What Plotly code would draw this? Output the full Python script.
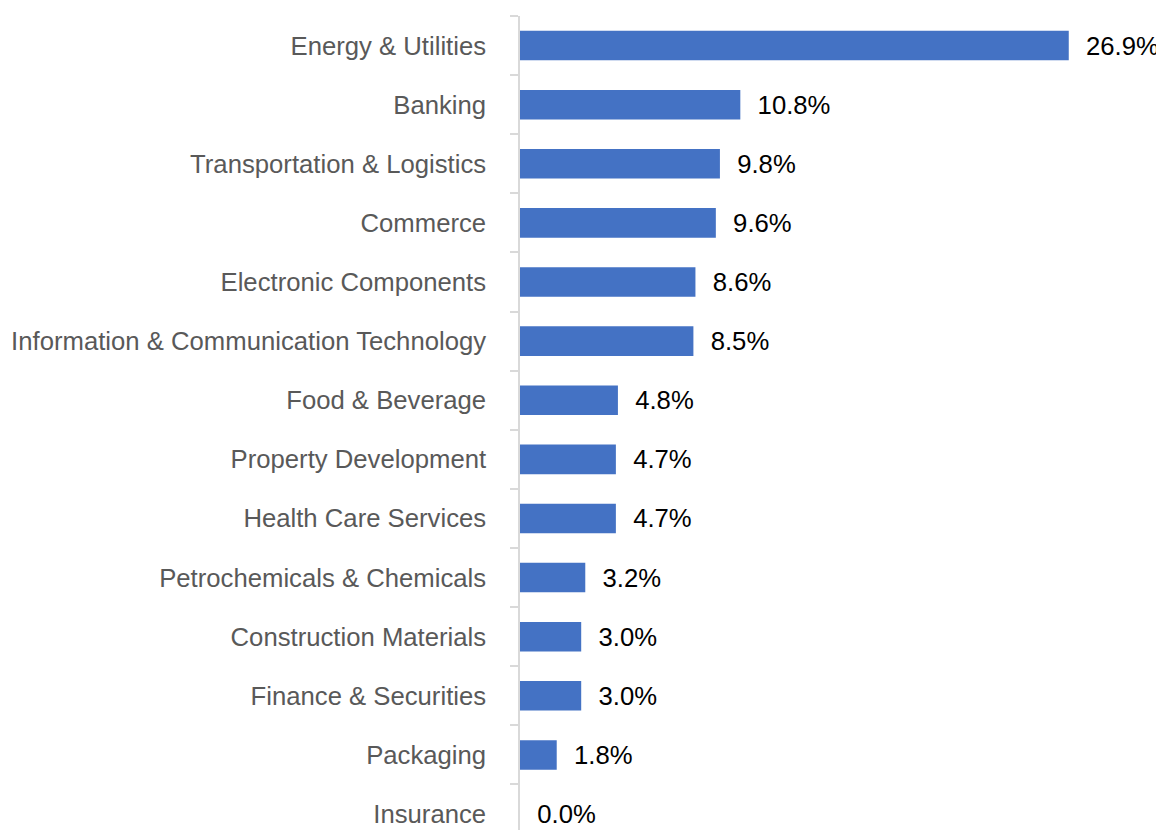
import plotly.graph_objects as go

BAR_COLOR = '#4472C4'
FONT = 'Liberation Sans, Arial, sans-serif'

sectors = [
    'Energy & Utilities', 'Banking', 'Transportation & Logistics', 'Commerce',
    'Electronic Components', 'Information & Communication Technology',
    'Food & Beverage', 'Property Development', 'Health Care Services',
    'Petrochemicals & Chemicals', 'Construction Materials',
    'Finance & Securities', 'Packaging', 'Insurance',
]
weights = [26.9, 10.8, 9.8, 9.6, 8.6, 8.5, 4.8, 4.7, 4.7, 3.2, 3.0, 3.0, 1.8, 0.0]


fig = go.Figure()
fig.add_trace(go.Bar(
    x=weights, y=sectors, orientation='h',
    marker=dict(color=BAR_COLOR, line=dict(width=0)),
    text=[f'{v:.1f}%' for v in weights],
    texttemplate='  %{text}',
    textposition='outside', cliponaxis=False,
    textfont=dict(family=FONT, size=25.7, color='#000000'),
    hoverinfo='skip',
))

# page body adds an 8px margin, so the figure is a bit smaller than the window
fig.update_layout(
    width=1156, height=822,
    margin=dict(l=512, r=32, t=8, b=0),
    paper_bgcolor='white', plot_bgcolor='white',
    bargap=0.5, showlegend=False,
    font=dict(family=FONT),
)
fig.update_xaxes(range=[0, 30], visible=False)
fig.update_yaxes(
    type='category', categoryorder='array', categoryarray=sectors,
    range=[13.27, -0.5],
    showline=True, linecolor='#d9d9d9', linewidth=1.5,
    ticks='outside', tickson='boundaries', ticklen=8, tickcolor='#d9d9d9', tickwidth=1.5,
    tickfont=dict(family=FONT, size=25.7, color='#595959'),
    ticklabelstandoff=27, showgrid=False,
)

fig.write_html('out.html')
